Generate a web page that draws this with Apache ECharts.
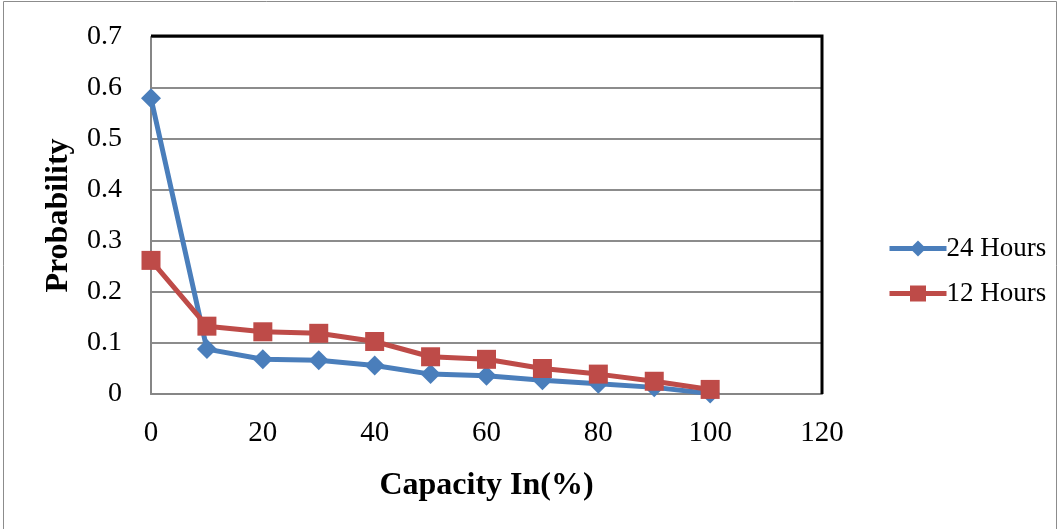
<!DOCTYPE html>
<html>
<head>
<meta charset="utf-8">
<script src="https://cdn.jsdelivr.net/npm/echarts@6/dist/echarts.min.js"></script>
<style>
  html, body { margin: 0; padding: 0; background: #fff; }
  #chart { width: 1060px; height: 529px; }
</style>
</head>
<body>
<div id="chart"></div>
<script>
// Capacity levels (%) and the probability of each for two durations
const capacity = [0, 10, 20, 30, 40, 50, 60, 70, 80, 90, 100];
const prob24h = [0.58, 0.088, 0.068, 0.066, 0.056, 0.039, 0.036, 0.027, 0.020, 0.013, 0.001];
const prob12h = [0.262, 0.133, 0.122, 0.119, 0.103, 0.073, 0.068, 0.050, 0.039, 0.025, 0.009];
const seriesNames = ['24 Hours', '12 Hours'];

const serif = '"Liberation Serif", "Times New Roman", serif';
const pair = (xs, ys) => xs.map((x, i) => [x, ys[i]]);

const G = { left: 151, right: 238, top: 37, bottom: 135 };
const W = 1060, H = 529;

const chart = echarts.init(document.getElementById('chart'));
chart.setOption({
  animation: false,
  backgroundColor: '#fff',
  graphic: [
    {
      type: 'rect',
      shape: { x: 3.5, y: 1.5, width: 1053, height: 540 },
      style: { fill: 'none', stroke: '#8c8c8c', lineWidth: 1 },
      silent: true
    },
    {
      // dark frame on the top and right of the plot area
      type: 'polyline',
      shape: { points: [[G.left, G.top - 1], [W - G.right, G.top - 1], [W - G.right, H - G.bottom]] },
      style: { fill: 'none', stroke: '#000', lineWidth: 3 },
      z: 10,
      silent: true
    }
  ],
  grid: {
    left: G.left, right: G.right, top: G.top, bottom: G.bottom
  },
  legend: {
    orient: 'vertical',
    left: 882, top: 230,
    itemGap: 18,
    itemWidth: 57, itemHeight: 20,
    lineStyle: { width: 5 },
    textStyle: { fontFamily: serif, fontSize: 27, color: '#000', padding: [0, 0, 0, -5] },
    data: seriesNames
  },
  xAxis: {
    type: 'value',
    min: 0, max: 120, interval: 20,
    name: 'Capacity In(%)',
    nameLocation: 'middle',
    nameGap: 76,
    nameTextStyle: { fontFamily: serif, fontSize: 32, fontWeight: 'bold', color: '#000' },
    axisLine: { lineStyle: { color: '#868686', width: 2 } },
    axisTick: { show: false },
    axisLabel: { fontFamily: serif, fontSize: 29, color: '#000', margin: 25 },
    splitLine: { show: false }
  },
  yAxis: {
    type: 'value',
    min: 0, max: 0.7, interval: 0.1,
    name: 'Probability',
    nameLocation: 'middle',
    nameGap: 76,
    nameTextStyle: { fontFamily: serif, fontSize: 32, fontWeight: 'bold', color: '#000' },
    axisLine: { show: true, lineStyle: { color: '#868686', width: 2 } },
    axisTick: { show: false },
    axisLabel: { fontFamily: serif, fontSize: 28, color: '#000', margin: 29 },
    splitLine: { lineStyle: { color: '#8c8c8c', width: 2 } }
  },
  series: [
    {
      name: seriesNames[0],
      type: 'line',
      data: pair(capacity, prob24h),
      symbol: 'diamond',
      symbolSize: 20,
      lineStyle: { color: '#4A7EBB', width: 5 },
      itemStyle: { color: '#4A7EBB' },
      z: 2
    },
    {
      name: seriesNames[1],
      type: 'line',
      data: pair(capacity, prob12h),
      symbol: 'rect',
      symbolSize: 19,
      lineStyle: { color: '#BE4B48', width: 5 },
      itemStyle: { color: '#BE4B48' },
      z: 3
    }
  ]
});
</script>
</body>
</html>
